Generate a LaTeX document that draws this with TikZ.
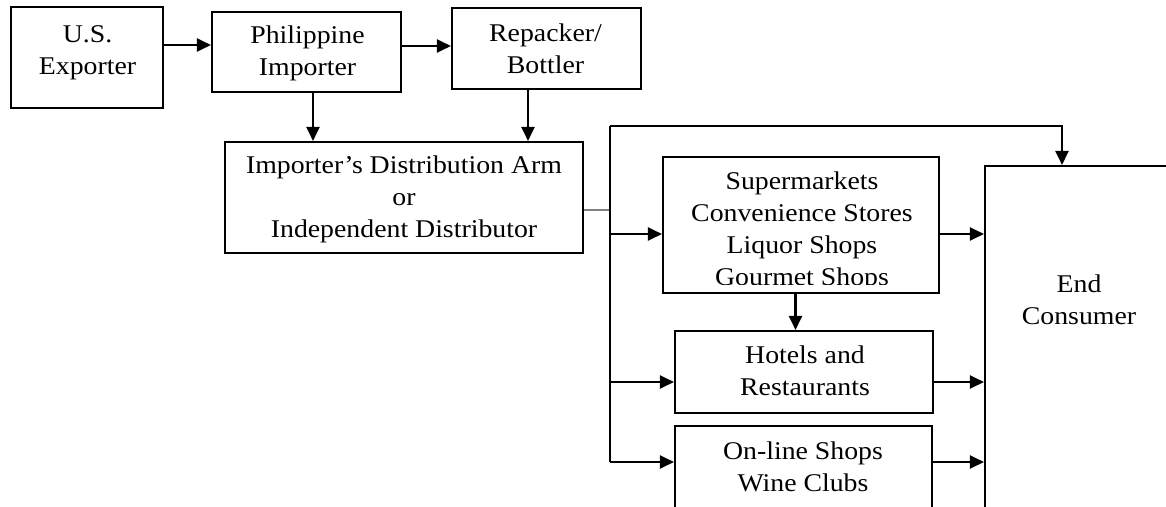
\documentclass[tikz,border=0pt]{standalone}
\usepackage{fontspec}
\setmainfont[FakeStretch=1.09]{Liberation Serif}
\usetikzlibrary{arrows.meta}
\begin{document}
\begin{tikzpicture}[x=1pt,y=-1pt,
  box/.style={draw,line width=2.1pt,rectangle,inner sep=0pt},
  txt/.style={inner sep=0pt,align=center,font=\fontsize{25.5}{32}\selectfont},
  arr/.style={line width=2.1pt,-{Triangle[length=14pt,width=13pt]}},
  ln/.style={line width=2.1pt}]
\useasboundingbox (0,0) rectangle (1166,506);
\clip (0,0) rectangle (1166,506);
% boxes
\node[box,minimum width=152pt,minimum height=101pt] (us) at (87,57.5) {};
\node[box,minimum width=189pt,minimum height=80pt] (phil) at (306.5,52) {};
\node[box,minimum width=189pt,minimum height=81pt] (rep) at (546.5,48.5) {};
\node[box,minimum width=358pt,minimum height=111pt] (dist) at (404,197.5) {};
\node[box,minimum width=276pt,minimum height=136pt] (sup) at (801,225) {};
\node[box,minimum width=258pt,minimum height=82pt] (hot) at (804,372) {};
\node[box,minimum width=257pt,minimum height=134pt] (onl) at (803.5,493) {};
\node[box,minimum width=265pt,minimum height=434pt] (endc) at (1117.5,383) {};
% texts
\node[txt] (ust) at (87.5,53) {U.S.\\Exporter};
\node[txt] (philt) at (307.5,53.5) {Philippine\\Importer};
\node[txt] (rept) at (545.5,49) {Repacker/\\Bottler};
\node[txt] (distt) at (404,199) {Importer’s Distribution Arm\\or\\Independent Distributor};
\begin{scope}
\clip (663,157) rectangle (939,284);
\node[txt] (supt) at (802,231) {Supermarkets\\Convenience Stores\\Liquor Shops\\Gourmet Shops};
\end{scope}
\node[txt] (hott) at (805,371) {Hotels and\\Restaurants};
\node[txt] (onlt) at (803,467) {On-line Shops\\Wine Clubs};
\node[txt] (endt) at (1079,300) {End\\Consumer};
% helper coordinates
\coordinate (ya) at (0,45);
\coordinate (yb) at (0,46);
\coordinate (xa) at (313,0);
\coordinate (xb) at (528,0);
\coordinate (tg) at (610,210);
\coordinate (ttop) at (610,126);
\coordinate (tbot) at (610,462);
\coordinate (t1) at (610,234);
\coordinate (t2) at (610,382);
\coordinate (xe) at (1062,0);
\coordinate (xs) at (795.5,0);
% connectors
\draw[arr] (us.east |- ya) -- (phil.west |- ya);
\draw[arr] (phil.east |- yb) -- (rep.west |- yb);
\draw[arr] (phil.south -| xa) -- (dist.north -| xa);
\draw[arr] (rep.south -| xb) -- (dist.north -| xb);
\draw[line width=1.6pt,gray] (dist.east |- tg) -- (tg);
\draw[ln] (ttop) -- (tbot);
\draw[arr] (ttop) -| (endc.north -| xe);
\draw[arr] (t1) -- (sup.west |- t1);
\draw[arr] (sup.east |- t1) -- (endc.west |- t1);
\draw[arr] (sup.south -| xs) -- (hot.north -| xs);
\draw[arr] (t2) -- (hot.west |- t2);
\draw[arr] (hot.east |- t2) -- (endc.west |- t2);
\draw[arr] (tbot) -- (onl.west |- tbot);
\draw[arr] (onl.east |- tbot) -- (endc.west |- tbot);
\end{tikzpicture}
\end{document}
